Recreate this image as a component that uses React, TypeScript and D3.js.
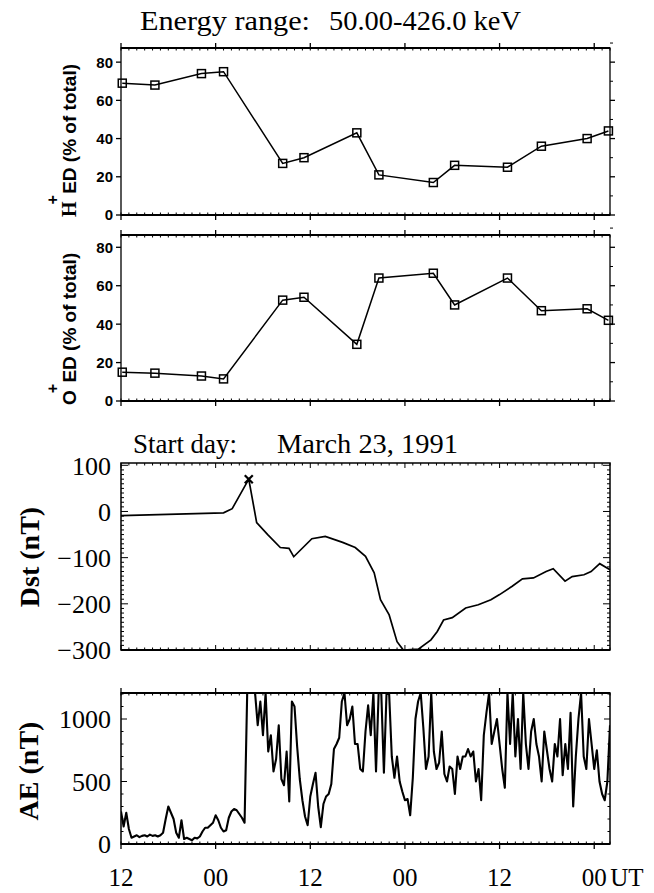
import React from "react";
import * as d3 from "d3";

// ---------- data ----------
const sampleHours = [0.16, 4.3, 10.2, 13.0, 20.5, 23.2, 29.9, 32.7, 39.6, 42.3, 49.0, 53.3, 59.1, 61.8];
const hPlusValues = [69, 68, 74, 75, 27, 30, 43, 21, 17, 26, 25, 36, 40, 44];
const oPlusValues = [15, 14.5, 13, 11.5, 52.5, 54, 29.5, 64, 66.5, 50, 64, 47, 48, 42];

const dstHours = [0, 13.0, 14.1, 16.2, 17.2, 18.6, 20.2, 21.3, 21.9, 24.2, 25.9, 28.1, 29.7, 31.0, 32.1, 32.9, 34.0, 35.0, 35.8, 37.7, 39.3, 40.1, 40.9, 42.0, 43.7, 45.3, 46.9, 48.0, 49.6, 50.9, 52.3, 53.9, 54.8, 56.3, 57.2, 58.7, 59.6, 60.7, 62.0];
const dstValues = [-9, -3, 6, 70, -24, -50, -78, -80, -98, -59, -54, -67, -78, -97, -133, -191, -224, -282, -300, -298, -278, -260, -235, -230, -209, -202, -191, -180, -162, -146, -144, -130, -124, -151, -141, -137, -130, -113, -126];
const dstPeakHour = 16.2;
const dstPeakValue = 70;

const AE_STEP_HOURS = 1 / 3;
const aeValues = [
  260, 140, 250, 120, 50, 60, 70, 55, 65, 70,
  60, 75, 65, 70, 60, 70, 90, 200, 300, 250,
  200, 90, 50, 190, 40, 50, 40, 30, 50, 45,
  60, 100, 130, 130, 150, 170, 230, 190, 130, 100,
  110, 210, 260, 280, 270, 240, 210, 170, 1220, 1220,
  1220, 1220, 950, 1140, 870, 1220, 740, 870, 580, 680,
  950, 520, 470, 740, 340, 1140, 1100, 780, 520, 350,
  220, 150, 380, 480, 570, 300, 135, 320, 380, 400,
  480, 760, 800, 850, 1140, 1220, 950, 1000, 1100, 800,
  800, 600, 580, 900, 1110, 870, 1220, 580, 1220, 1220,
  570, 1220, 1200, 700, 530, 700, 500, 420, 350, 360,
  230, 530, 1000, 1140, 1220, 930, 600, 700, 1220, 740,
  600, 650, 900, 560, 500, 620, 600, 400, 700, 600,
  700, 700, 760, 700, 740, 500, 600, 350, 870, 1050,
  1220, 800, 900, 1000, 800, 600, 450, 1220, 800, 1220,
  700, 1000, 600, 1220, 800, 600, 900, 1000, 800, 700,
  500, 900, 750, 600, 500, 800, 700, 1000, 550, 800,
  600, 1050, 300, 700, 1000, 1220, 700, 600, 1000, 800,
  600, 750, 500, 400, 350, 500, 950,
];

const timeTickHours = [0, 12, 24, 36, 48, 60];
const timeTickLabels = ["12", "00", "12", "00", "12", "00"];
const pctTicks = [0, 20, 40, 60, 80];
const dstTicks = [100, 0, -100, -200, -300];
const aeTicks = [0, 500, 1000];

const SERIF = "'Liberation Serif', 'Times New Roman', serif";
const SANS = "'Liberation Sans', Arial, sans-serif";

export default function App() {
  const x = d3.scaleLinear().domain([0, 62]).range([121, 610]);
  const L = 121, R = 610;

  const yHp = d3.scaleLinear().domain([0, 87.4]).range([215, 48]);
  const yOp = d3.scaleLinear().domain([0, 86.4]).range([401, 235]);
  const yDst = d3.scaleLinear().domain([-300, 105]).range([650, 463]);
  const yAe = d3.scaleLinear().domain([0, 1208]).range([844, 693]);

  const hourly = d3.range(0, 63, 1);

  const pctPanel = (y: d3.ScaleLinear<number, number>, vals: number[], key: string) => {
    const top = y.range()[1], bot = y.range()[0];
    const line = d3.line<number>().x((_, i) => x(sampleHours[i])).y((v) => y(v));
    return (
      <g key={key}>
        <rect x={L} y={top} width={R - L} height={bot - top} fill="none" stroke="#000" strokeWidth={1.3} />
        <line x1={L} x2={R} y1={top} y2={top} stroke="#000" strokeWidth={2.2} />
        <line x1={L} x2={R} y1={bot} y2={bot} stroke="#000" strokeWidth={2.2} />
        {hourly.map((h) => (
          <g key={"h" + h}>
            <line x1={x(h)} x2={x(h)} y1={top} y2={top + 2.5} stroke="#000" strokeWidth={1} />
            <line x1={x(h)} x2={x(h)} y1={bot} y2={bot - 2.5} stroke="#000" strokeWidth={1} />
          </g>
        ))}
        {timeTickHours.map((h) => (
          <g key={"m" + h}>
            <line x1={x(h)} x2={x(h)} y1={top - 5} y2={top} stroke="#000" strokeWidth={1.3} />
            <line x1={x(h)} x2={x(h)} y1={bot} y2={bot + 5} stroke="#000" strokeWidth={1.3} />
          </g>
        ))}
        {pctTicks.map((t) => (
          <g key={"t" + t}>
            <line x1={L - 5} x2={L} y1={y(t)} y2={y(t)} stroke="#000" strokeWidth={1.3} />
            <line x1={R} x2={R + 5} y1={y(t)} y2={y(t)} stroke="#000" strokeWidth={1.3} />
            <line x1={R} x2={R + 3} y1={y(t + 10)} y2={y(t + 10)} stroke="#000" strokeWidth={1} />
            <text x={113} y={y(t)} dy="0.36em" textAnchor="end" fontFamily={SANS} fontWeight="bold" fontSize={15}>
              {t}
            </text>
          </g>
        ))}
        <path d={line(vals) || ""} fill="none" stroke="#000" strokeWidth={1.5} />
        {vals.map((v, i) => (
          <rect key={"s" + i} x={x(sampleHours[i]) - 4} y={y(v) - 4} width={8} height={8} fill="none" stroke="#000" strokeWidth={1.5} />
        ))}
      </g>
    );
  };

  const dstLine = d3.line<number>().x((_, i) => x(dstHours[i])).y((v) => yDst(v));
  const aeLine = d3.line<number>().x((_, i) => x(i * AE_STEP_HOURS)).y((v) => yAe(Math.min(v, 1208)));

  const dTop = yDst.range()[1], dBot = yDst.range()[0];
  const aTop = yAe.range()[1], aBot = yAe.range()[0];

  const pctLabel = (ion: string, yb: number, ionSerif: boolean) => (
    <text transform={`translate(76,${yb}) rotate(-90)`} fontSize={19} fontWeight="bold" fontFamily={SANS}>
      <tspan fontFamily={ionSerif ? SERIF : SANS} fontSize={ionSerif ? 20 : 19}>{ion}</tspan>
      <tspan dx={-3} dy={-18} fontSize={16}>+</tspan>
      <tspan dx={-4} dy={18}> ED (% of total)</tspan>
    </text>
  );

  return (
    <svg width={654} height={893} style={{ position: "absolute", left: 0, top: 0, background: "#fff" }}>
      {/* titles */}
      <text x={140} y={30} fontFamily={SERIF} fontSize={27} textLength={170} lengthAdjust="spacingAndGlyphs">Energy range:</text>
      <text x={329} y={30} fontFamily={SERIF} fontSize={27} textLength={192} lengthAdjust="spacingAndGlyphs">50.00-426.0 keV</text>

      {pctPanel(yHp, hPlusValues, "hp")}
      {pctPanel(yOp, oPlusValues, "op")}
      {pctLabel("H", 217, true)}
      {pctLabel("O", 405, false)}

      <text x={133} y={453} fontFamily={SERIF} fontSize={27} textLength={104} lengthAdjust="spacingAndGlyphs">Start day:</text>
      <text x={277} y={453} fontFamily={SERIF} fontSize={27} textLength={181} lengthAdjust="spacingAndGlyphs">March 23, 1991</text>

      {/* Dst panel */}
      <g>
        <rect x={L} y={dTop} width={R - L} height={dBot - dTop} fill="none" stroke="#000" strokeWidth={1.5} />
        <line x1={L} x2={R} y1={dBot} y2={dBot} stroke="#000" strokeWidth={2.2} />
        {d3.range(-300, 101, 10).map((v) => {
          const major = v % 100 === 0;
          const len = major ? 7 : 3;
          return (
            <g key={"dt" + v}>
              <line x1={L} x2={L + len} y1={yDst(v)} y2={yDst(v)} stroke="#000" strokeWidth={1} />
              <line x1={R} x2={R - len} y1={yDst(v)} y2={yDst(v)} stroke="#000" strokeWidth={1} />
            </g>
          );
        })}
        {hourly.map((h) => {
          const major = h % 12 === 0;
          const len = major ? 5 : 2.5;
          return (
            <g key={"dh" + h}>
              <line x1={x(h)} x2={x(h)} y1={dTop} y2={dTop + len} stroke="#000" strokeWidth={1} />
              <line x1={x(h)} x2={x(h)} y1={dBot} y2={dBot - len} stroke="#000" strokeWidth={1} />
            </g>
          );
        })}
        {dstTicks.map((t) => (
          <text key={"dl" + t} x={111} y={yDst(t)} dy="0.36em" textAnchor="end" fontFamily={SERIF} fontSize={26}>
            {t < 0 ? "\u2212" + Math.abs(t) : String(t)}
          </text>
        ))}
        <path d={dstLine(dstValues) || ""} fill="none" stroke="#000" strokeWidth={1.7} />
        <g transform={`translate(${x(dstPeakHour)},${yDst(dstPeakValue)})`} stroke="#000" strokeWidth={2.2}>
          <line x1={-4} y1={-4} x2={4} y2={4} />
          <line x1={-4} y1={4} x2={4} y2={-4} />
        </g>
        <text transform={`translate(39,557) rotate(-90)`} textAnchor="middle" fontFamily={SERIF} fontWeight="bold" fontSize={28}>
          Dst (nT)
        </text>
      </g>

      {/* AE panel */}
      <g>
        <defs>
          <clipPath id="aeclip">
            <rect x={L} y={aTop} width={R - L} height={aBot - aTop} />
          </clipPath>
        </defs>
        <path d={aeLine(aeValues) || ""} fill="none" stroke="#000" strokeWidth={2.1} strokeLinejoin="round" clipPath="url(#aeclip)" />
        <rect x={L} y={aTop} width={R - L} height={aBot - aTop} fill="none" stroke="#000" strokeWidth={1.5} />
        <line x1={L} x2={R} y1={aTop} y2={aTop} stroke="#000" strokeWidth={2.2} />
        <line x1={L} x2={R} y1={aBot} y2={aBot} stroke="#000" strokeWidth={2.2} />
        {d3.range(0, 1201, 100).map((v) => {
          const major = v % 500 === 0;
          const len = major ? 6 : 2.5;
          return (
            <g key={"at" + v}>
              <line x1={L} x2={L + len} y1={yAe(v)} y2={yAe(v)} stroke="#000" strokeWidth={1} />
              <line x1={R} x2={R - len} y1={yAe(v)} y2={yAe(v)} stroke="#000" strokeWidth={1} />
            </g>
          );
        })}
        {hourly.map((h) => (
          <g key={"ah" + h}>
            <line x1={x(h)} x2={x(h)} y1={aTop} y2={aTop + 2.5} stroke="#000" strokeWidth={1} />
            <line x1={x(h)} x2={x(h)} y1={aBot} y2={aBot - 2.5} stroke="#000" strokeWidth={1} />
          </g>
        ))}
        {timeTickHours.map((h) => (
          <g key={"am" + h}>
            <line x1={x(h)} x2={x(h)} y1={aTop - 5} y2={aTop} stroke="#000" strokeWidth={1.3} />
            <line x1={x(h)} x2={x(h)} y1={aBot} y2={aBot + 5} stroke="#000" strokeWidth={1.3} />
          </g>
        ))}
        {aeTicks.map((t) => (
          <text key={"al" + t} x={111} y={yAe(t)} dy="0.36em" textAnchor="end" fontFamily={SERIF} fontSize={26}>
            {t}
          </text>
        ))}
        <text transform={`translate(38,771) rotate(-90)`} textAnchor="middle" fontFamily={SERIF} fontWeight="bold" fontSize={28}>
          AE (nT)
        </text>
      </g>

      {/* time axis labels */}
      {timeTickHours.map((h, i) => (
        <text key={"tl" + h} x={x(h)} y={886} textAnchor="middle" fontFamily={SERIF} fontSize={25}>
          {timeTickLabels[i]}
        </text>
      ))}
      <text x={x(60) + 16} y={886} fontFamily={SERIF} fontSize={25}>UT</text>
    </svg>
  );
}
